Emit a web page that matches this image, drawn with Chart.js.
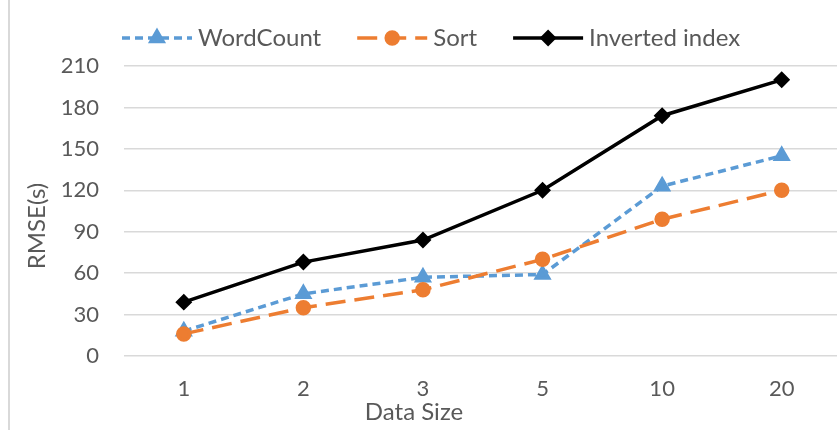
<!DOCTYPE html>
<html>
<head>
<meta charset="utf-8">
<script src="https://cdn.jsdelivr.net/npm/chart.js@4.4.0/dist/chart.umd.min.js"></script>
<style>
  html, body { margin: 0; padding: 0; background: #fff; }
  #wrap { width: 837px; height: 430px; position: relative; overflow: hidden; }
</style>
</head>
<body>
<div id="wrap"><canvas id="chart" width="852" height="430"></canvas></div>
<script>
// data
const categories = ['1', '2', '3', '5', '10', '20'];
const wordCount = [18, 45, 57, 59, 123, 145];
const sortTimes = [16, 35, 48, 70, 99, 120];
const invertedIndex = [39, 68, 84, 120, 174, 200];
const yMin = 0, yMax = 210, yStep = 30;
const xTitle = 'Data Size';
const yTitle = 'RMSE(s)';

const textColor = '#595959';
const fontFamily = 'Lato, "Open Sans", sans-serif';

function marker(ctx, style, r, x, y) {
    if (Chart.helpers && Chart.helpers.drawPoint) {
        Chart.helpers.drawPoint(ctx, { pointStyle: style, radius: r, rotation: 0, borderWidth: 1 }, x, y);
        return;
    }
    ctx.beginPath();
    ctx.arc(x, y, r, 0, Math.PI * 2);
    ctx.fill();
}

// legend with line + marker, axis titles and the left frame line
const extras = {
    id: 'extras',
    afterDraw(chart) {
        const ctx = chart.ctx;
        ctx.save();
        ctx.strokeStyle = '#d9d9d9';
        ctx.lineWidth = 2;
        ctx.beginPath();
        ctx.moveTo(9, 0);
        ctx.lineTo(9, 430);
        ctx.stroke();

        ctx.font = '24px ' + fontFamily;
        ctx.fillStyle = textColor;
        ctx.textBaseline = 'middle';
        ctx.textAlign = 'center';
        ctx.fillText(xTitle, 414, 412);
        ctx.save();
        ctx.translate(37, 226);
        ctx.rotate(-Math.PI / 2);
        ctx.fillText(yTitle, 0, 0);
        ctx.restore();

        let x = 122;
        const y = 38;
        chart.data.datasets.forEach(ds => {
            ctx.strokeStyle = ds.borderColor;
            ctx.lineWidth = ds.borderWidth;
            ctx.setLineDash(ds.borderDash || []);
            ctx.beginPath();
            ctx.moveTo(x, y);
            ctx.lineTo(x + 70, y);
            ctx.stroke();
            ctx.setLineDash([]);
            ctx.fillStyle = ds.pointBackgroundColor;
            ctx.strokeStyle = ds.pointBorderColor;
            marker(ctx, ds.pointStyle, ds.pointRadius, x + 35, y);
            ctx.fillStyle = textColor;
            ctx.textAlign = 'left';
            ctx.fillText(ds.label, x + 76, y);
            x += 76 + ctx.measureText(ds.label).width + 36;
        });
        ctx.restore();
    }
};

new Chart(document.getElementById('chart'), {
    type: 'line',
    data: {
        labels: categories,
        datasets: [
            {
                label: 'WordCount',
                data: wordCount,
                borderColor: '#5b9bd5',
                borderWidth: 3.5,
                borderDash: [8, 5],
                pointStyle: 'triangle',
                pointRadius: 7,
                pointBackgroundColor: '#5b9bd5',
                pointBorderColor: '#5b9bd5',
                order: 3
            },
            {
                label: 'Sort',
                data: sortTimes,
                borderColor: '#ed7d31',
                borderWidth: 3.5,
                borderDash: [20, 9],
                pointStyle: 'circle',
                pointRadius: 6,
                pointBackgroundColor: '#ed7d31',
                pointBorderColor: '#ed7d31',
                order: 2
            },
            {
                label: 'Inverted index',
                data: invertedIndex,
                borderColor: '#000000',
                borderWidth: 3.5,
                pointStyle: 'rectRot',
                pointRadius: 6,
                pointBackgroundColor: '#000000',
                pointBorderColor: '#000000',
                order: 1
            }
        ]
    },
    options: {
        responsive: false,
        animation: false,
        layout: { padding: { top: 66, left: 0, right: 0, bottom: 0 } },
        plugins: {
            legend: { display: false },
            tooltip: { enabled: false }
        },
        scales: {
            x: {
                offset: true,
                grid: { display: false, drawTicks: false },
                border: { display: false },
                ticks: { color: textColor, font: { family: fontFamily, size: 22 }, padding: 20 },
                afterFit(scale) { scale.height = 74; }
            },
            y: {
                min: yMin,
                max: yMax,
                grid: { color: '#d9d9d9', lineWidth: 1.5, drawTicks: false },
                border: { display: false },
                ticks: { stepSize: yStep, color: textColor, font: { family: fontFamily, size: 22 }, padding: 25 },
                afterFit(scale) { scale.width = 124; }
            }
        }
    },
    plugins: [extras]
});
</script>
</body>
</html>
